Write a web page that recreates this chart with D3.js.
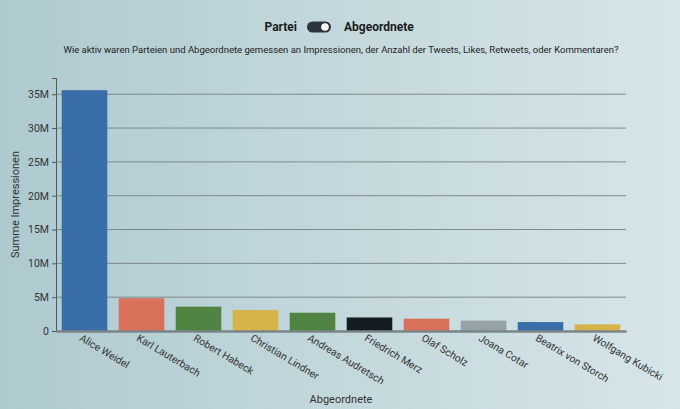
<!DOCTYPE html>
<html>
<head>
<meta charset="utf-8">
<script src="https://cdn.jsdelivr.net/npm/d3@7"></script>
<style>
  html, body { margin: 0; padding: 0; }
  body { width: 680px; height: 409px;
    background: linear-gradient(90deg, #aecacf 0%, #c3d8dc 50%, #d6e5ea 100%);
    font-family: Roboto, sans-serif; }
  svg { display: block; }
</style>
</head>
<body>
<div id="chart"></div>
<script>
const names = ["Alice Weidel", "Karl Lauterbach", "Robert Habeck", "Christian Lindner",
  "Andreas Audretsch", "Friedrich Merz", "Olaf Scholz", "Joana Cotar",
  "Beatrix von Storch", "Wolfgang Kubicki"];
const impressions = [35.6e6, 4.85e6, 3.6e6, 3.1e6, 2.7e6, 2.0e6, 1.82e6, 1.53e6, 1.32e6, 0.98e6];
const parties = ["AfD", "SPD", "Gruene", "FDP", "Gruene", "CDU", "SPD", "AfD", "AfD", "FDP"];
const yTicks = [0, 5e6, 10e6, 15e6, 20e6, 25e6, 30e6, 35e6];

const partyColor = { AfD: "#3a6ea8", SPD: "#d9705a", Gruene: "#4f8442", FDP: "#d6b44a", CDU: "#141b23" };
// Joana Cotar left the AfD, her bar is grey in the original
const barColor = (name, i) => name === "Joana Cotar" ? "#96a3a6" : partyColor[parties[i]];

const width = 680, height = 409;
const margin = { top: 78, right: 54, bottom: 78, left: 56 };
const innerWidth = width - margin.left - margin.right;
const innerHeight = height - margin.top - margin.bottom;

const svg = d3.select("#chart")
  .append("svg")
    .attr("width", width)
    .attr("height", height);

// toggle header
const header = svg.append("g").attr("font-family", "Roboto").attr("font-weight", 700)
  .attr("font-size", 12).attr("fill", "#1c1c1c");
header.append("text").attr("x", 297).attr("y", 31).attr("text-anchor", "end").text("Partei");
header.append("rect").attr("x", 307).attr("y", 21.5).attr("width", 24).attr("height", 11)
  .attr("rx", 5.5).attr("fill", "#2c3440");
header.append("circle").attr("cx", 325).attr("cy", 27).attr("r", 3.8).attr("fill", "#fff");
header.append("text").attr("x", 344).attr("y", 31).text("Abgeordnete");

svg.append("text")
  .attr("x", 341).attr("y", 53)
  .attr("text-anchor", "middle")
  .attr("font-size", 9.5)
  .attr("fill", "#222")
  .text("Wie aktiv waren Parteien und Abgeordnete gemessen an Impressionen, der Anzahl der Tweets, Likes, Retweets, oder Kommentaren?");

const g = svg.append("g").attr("transform", `translate(${margin.left},${margin.top})`);

const xScale = d3.scaleBand()
  .domain(names)
  .range([0, innerWidth])
  .paddingInner(0.2)
  .paddingOuter(0.1);

const yScale = d3.scaleLinear()
  .domain([0, 37.4e6])
  .range([innerHeight, 0]);

// gridlines
g.selectAll(".grid")
  .data(yTicks.slice(1))
  .join("line")
    .attr("class", "grid")
    .attr("x1", 0).attr("x2", innerWidth)
    .attr("y1", d => yScale(d)).attr("y2", d => yScale(d))
    .attr("stroke", "#7d8a8e").attr("stroke-width", 1);

g.selectAll(".bar")
  .data(names)
  .join("rect")
    .attr("class", "bar")
    .attr("x", d => xScale(d))
    .attr("width", xScale.bandwidth())
    .attr("y", (d, i) => yScale(impressions[i]))
    .attr("height", (d, i) => innerHeight - yScale(impressions[i]))
    .attr("fill", barColor);

const yAxis = g.append("g")
  .call(d3.axisLeft(yScale).tickValues(yTicks).tickSize(4)
    .tickFormat(d => d === 0 ? "0" : d3.format("~s")(d)));
yAxis.selectAll("text").attr("font-size", 10.5).attr("fill", "#333").attr("font-family", "Roboto");
yAxis.select(".domain").attr("stroke", "#555");
yAxis.selectAll(".tick line").attr("stroke", "#555");

const xAxis = g.append("g")
  .attr("transform", `translate(0,${innerHeight})`)
  .call(d3.axisBottom(xScale).tickSize(0));
xAxis.select(".domain").attr("stroke", "#7b8588").attr("stroke-width", 2.5);
xAxis.selectAll("text")
  .attr("font-size", 10.3)
  .attr("font-family", "Roboto")
  .attr("fill", "#333")
  .attr("text-anchor", "start")
  .attr("transform", "translate(-1,1) rotate(31)")
  .attr("dy", "0.6em");

svg.append("text")
  .attr("transform", `translate(19,${margin.top + innerHeight / 2}) rotate(-90)`)
  .attr("text-anchor", "middle")
  .attr("font-size", 11)
  .attr("fill", "#333")
  .text("Summe Impressionen");

svg.append("text")
  .attr("x", margin.left + innerWidth / 2).attr("y", 403)
  .attr("text-anchor", "middle")
  .attr("font-size", 11)
  .attr("fill", "#333")
  .text("Abgeordnete");
</script>
</body>
</html>
